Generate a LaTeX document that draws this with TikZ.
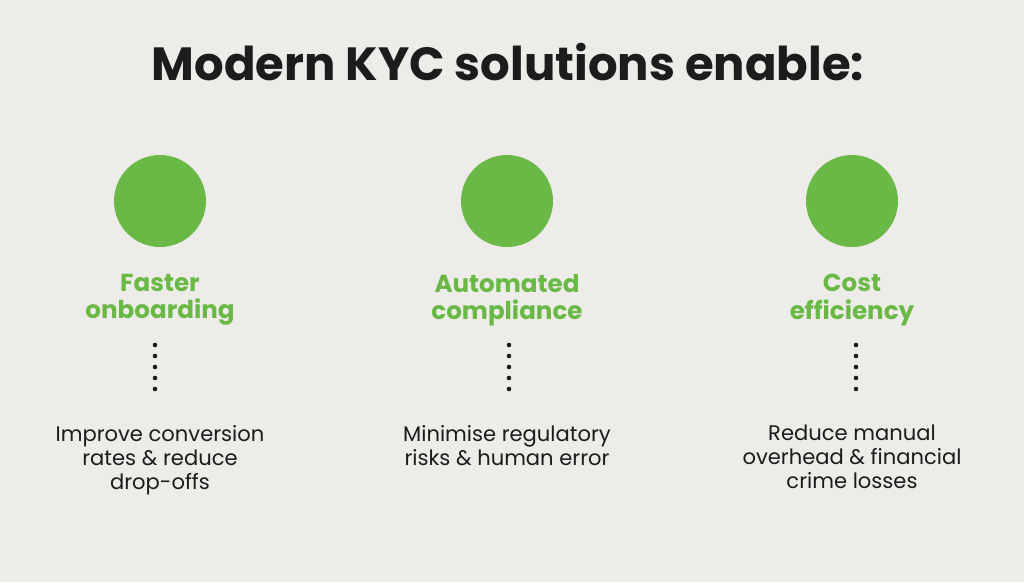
\documentclass[tikz,border=0pt]{standalone}
\usepackage{fontspec}
\setmainfont{Poppins}
\usetikzlibrary{positioning}
\definecolor{bg}{HTML}{EDECE9}
\definecolor{kycgreen}{HTML}{6AB845}
\definecolor{ink}{HTML}{1C1C1C}
\tikzset{
  disc/.style={circle, fill=kycgreen, minimum size=1.84cm, inner sep=0pt},
  head/.style={text=kycgreen, font=\fontsize{14}{15.5}\selectfont\bfseries, align=center},
  body/.style={text=ink, font=\fontsize{12}{13.6}\selectfont, align=center},
  dot/.style={circle, fill=ink, minimum size=2.6pt, inner sep=0pt}
}
\begin{document}
\begin{tikzpicture}[x=0.02cm,y=-0.02cm]
\fill[bg] (0,0) rectangle (1024,582);
\useasboundingbox (0,0) rectangle (1024,582);
% title
\node[text=ink, font=\fontsize{26.5}{30}\selectfont\bfseries] (title) at (508,62) {Modern KYC solutions enable:};
% columns
\foreach \n/\x/\d/\h/\b in {fast/160/155/{Faster\\onboarding}/{Improve conversion\\rates \& reduce\\drop-offs},
                         auto/507/509/{Automated\\compliance}/{Minimise regulatory\\risks \& human error},
                         cost/852/856/{Cost\\efficiency}/{Reduce manual\\overhead \& financial\\crime losses}}{
  \node[disc] (\n) at (\x,201) {};
  \node[head] (\n-head) at (\x,300) {\h};
  \foreach \i in {0,...,4}
    \node[dot] (\n-dot\i) at (\d,345+11*\i) {};
  \node[body, anchor=north] (\n-body) at (\x,419) {\b};
}
\end{tikzpicture}
\end{document}
